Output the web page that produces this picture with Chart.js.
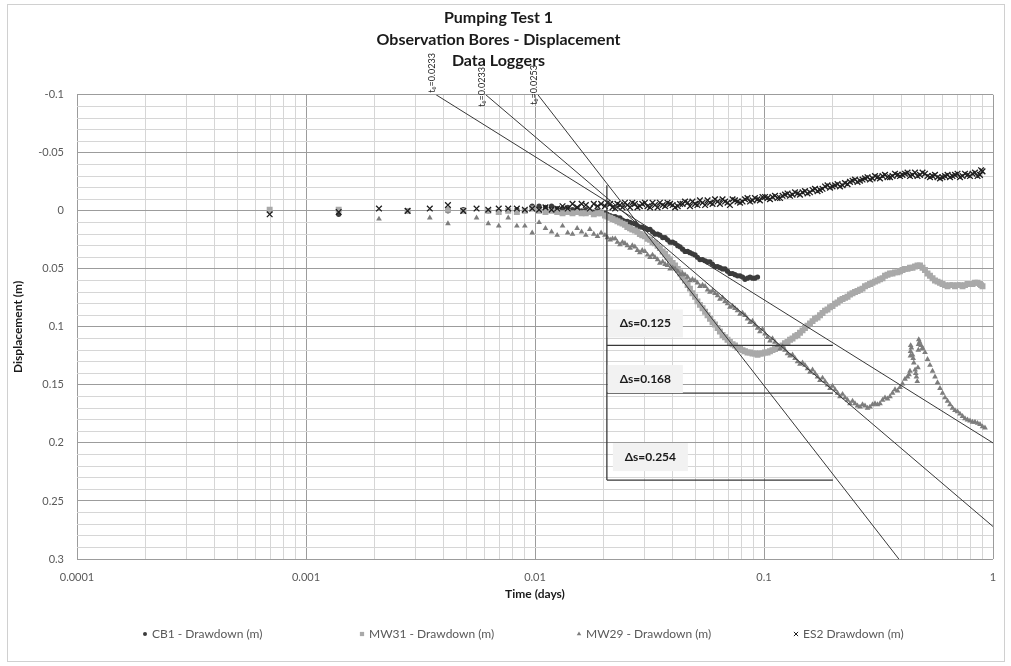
<!DOCTYPE html>
<html>
<head>
<meta charset="utf-8">
<script src="https://cdn.jsdelivr.net/npm/chart.js@4.4.1/dist/chart.umd.min.js"></script>
<style>
  html, body { margin: 0; padding: 0; background: #fff; }
  #wrap { position: relative; width: 1011px; height: 666px; }
  #frame { position: absolute; left: 7px; top: 4px; width: 998px; height: 658px; border: 1px solid #d0d0d0; box-sizing: border-box; pointer-events: none; }
  canvas { display: block; }
</style>
</head>
<body>
<div id="wrap">
  <canvas id="chart" width="1011" height="666"></canvas>
  <div id="frame"></div>
</div>
<script>
// Titles and labels
const TITLE_LINES = ['Pumping Test 1', 'Observation Bores - Displacement', 'Data Loggers'];
const SERIES_NAMES = ['CB1 - Drawdown (m)', 'MW31 - Drawdown (m)', 'MW29 - Drawdown (m)', 'ES2 Drawdown (m)'];
const X_DECADES = [0.0001, 0.001, 0.01, 0.1, 1];
const X_TICK_LABELS = ['0.0001', '0.001', '0.01', '0.1', '1'];
const X_MULTS = [1, 2, 3, 4, 5, 6, 7, 8, 9];
const T0_LABELS = ['t\u2080=0.0233', 't\u2080=0.0233', 't\u2080=0.0253'];
const DS_LABELS = ['\u0394s=0.125', '\u0394s=0.168', '\u0394s=0.254'];

// [time (days), displacement (m)]
const cb1 = [
  [0.001389, 0.003], [0.002778, 0.000], [0.004167, 0.000], [0.004861, -0.001], [0.00625, 0.000],
  [0.008333, -0.001], [0.009722, -0.004], [0.01042, -0.004], [0.01111, -0.003], [0.01181, -0.004],
  [0.0125, -0.002], [0.01319, -0.002], [0.01389, -0.003], [0.01458, -0.001], [0.01528, -0.002],
  [0.01597, 0.000], [0.01667, -0.001], [0.01736, 0.000], [0.01806, 0.001], [0.01875, 0.000],
  [0.01944, 0.001], [0.0202, 0.002], [0.0213, 0.004], [0.0224, 0.005], [0.0235, 0.006],
  [0.0247, 0.009], [0.0260, 0.010], [0.0273, 0.011], [0.0287, 0.014], [0.0302, 0.015],
  [0.0318, 0.016], [0.0334, 0.020], [0.0351, 0.021], [0.0370, 0.023], [0.0389, 0.027],
  [0.0409, 0.028], [0.0430, 0.031], [0.0452, 0.035], [0.0475, 0.036], [0.0500, 0.038],
  [0.0525, 0.042], [0.0553, 0.043], [0.0581, 0.044], [0.0611, 0.048], [0.0642, 0.049],
  [0.0676, 0.050], [0.0710, 0.054], [0.0747, 0.055], [0.0786, 0.056], [0.0826, 0.059],
  [0.0869, 0.057], [0.0913, 0.058],
];
const cb1Mid = [
  [0.0207, 0.003], [0.0218, 0.005], [0.0229, 0.006], [0.0241, 0.008], [0.0253, 0.009],
  [0.0266, 0.011], [0.0280, 0.013], [0.0294, 0.014], [0.0310, 0.016], [0.0326, 0.018],
  [0.0343, 0.020], [0.0361, 0.023], [0.0379, 0.025], [0.0399, 0.027], [0.0420, 0.030],
  [0.0441, 0.033], [0.0464, 0.035], [0.0487, 0.037], [0.0512, 0.040], [0.0539, 0.042],
  [0.0567, 0.044], [0.0596, 0.046], [0.0627, 0.048], [0.0659, 0.050], [0.0693, 0.052],
  [0.0729, 0.054], [0.0766, 0.056], [0.0806, 0.057], [0.0847, 0.058], [0.0891, 0.058],
  [0.0937, 0.057],
];

const mw31 = [
  [0.000694, -0.001], [0.001389, -0.001], [0.002778, 0.000], [0.004167, -0.001], [0.004861, 0.000],
  [0.00625, 0.000], [0.006944, 0.001], [0.007639, 0.000], [0.008333, 0.001], [0.009028, 0.000],
  [0.009722, -0.002], [0.01042, 0.000], [0.01111, 0.001], [0.01181, 0.000], [0.0125, 0.001],
  [0.01319, 0.002], [0.01389, 0.001], [0.01458, 0.002], [0.01528, 0.001], [0.01597, 0.002],
  [0.01667, 0.002], [0.01736, 0.001], [0.01806, 0.003], [0.01875, 0.002], [0.01944, 0.002],
  [0.0202, 0.004], [0.0213, 0.006], [0.0224, 0.008], [0.0235, 0.010], [0.0247, 0.012],
  [0.0260, 0.015], [0.0273, 0.017], [0.0287, 0.020], [0.0302, 0.022], [0.0318, 0.025],
  [0.0334, 0.028], [0.0351, 0.032], [0.0370, 0.037], [0.0389, 0.042], [0.0409, 0.047],
  [0.0430, 0.053], [0.0452, 0.060], [0.0475, 0.067], [0.0500, 0.074], [0.0525, 0.081],
  [0.0553, 0.087], [0.0581, 0.093], [0.0611, 0.098], [0.0642, 0.104], [0.0676, 0.109],
  [0.0710, 0.113], [0.0747, 0.116], [0.0786, 0.119], [0.0826, 0.121], [0.0869, 0.122],
  [0.0913, 0.123], [0.0960, 0.123], [0.101, 0.122], [0.1062, 0.121], [0.1117, 0.119],
  [0.1175, 0.117], [0.1235, 0.114], [0.1299, 0.111], [0.1366, 0.108], [0.1436, 0.105],
  [0.1510, 0.101], [0.1588, 0.097], [0.1670, 0.093], [0.1756, 0.090], [0.1847, 0.086],
  [0.1942, 0.083], [0.2042, 0.080], [0.2147, 0.077], [0.2258, 0.075], [0.2374, 0.072],
  [0.2497, 0.070], [0.2626, 0.068], [0.2761, 0.065], [0.2903, 0.063], [0.3053, 0.061],
  [0.3210, 0.059], [0.3376, 0.056], [0.3550, 0.054], [0.3733, 0.053], [0.3925, 0.052],
  [0.4128, 0.050], [0.4340, 0.049], [0.4564, 0.048], [0.4800, 0.047], [0.5047, 0.051],
  [0.5307, 0.056], [0.5581, 0.060], [0.5869, 0.062], [0.6171, 0.064], [0.6490, 0.064],
  [0.6824, 0.065], [0.7176, 0.064], [0.7546, 0.064], [0.7935, 0.063], [0.8344, 0.062],
  [0.8774, 0.063], [0.9000, 0.065],
];
const mw31Mid = [
  [0.0207, 0.005], [0.0218, 0.007], [0.0229, 0.009], [0.0241, 0.011], [0.0253, 0.014],
  [0.0266, 0.016], [0.0280, 0.018], [0.0294, 0.021], [0.0310, 0.024], [0.0326, 0.027],
  [0.0343, 0.030], [0.0361, 0.035], [0.0379, 0.040], [0.0399, 0.045], [0.0420, 0.050],
  [0.0441, 0.057], [0.0464, 0.064], [0.0487, 0.071], [0.0512, 0.078], [0.0539, 0.084],
  [0.0567, 0.090], [0.0596, 0.096], [0.0627, 0.101], [0.0659, 0.107], [0.0693, 0.111],
  [0.0729, 0.115], [0.0766, 0.118], [0.0806, 0.120], [0.0847, 0.122], [0.0891, 0.123],
  [0.0937, 0.124], [0.0985, 0.123], [0.1036, 0.122], [0.1089, 0.120], [0.1146, 0.118],
  [0.1205, 0.116], [0.1267, 0.113], [0.1332, 0.110], [0.1401, 0.107], [0.1473, 0.103],
  [0.1549, 0.099], [0.1629, 0.095], [0.1713, 0.092], [0.1801, 0.088], [0.1894, 0.085],
  [0.1992, 0.082], [0.2095, 0.079], [0.2203, 0.076], [0.2316, 0.074], [0.2435, 0.071],
  [0.2561, 0.069], [0.2693, 0.067], [0.2832, 0.064], [0.2978, 0.062], [0.3131, 0.060],
  [0.3293, 0.058], [0.3462, 0.055], [0.3641, 0.054], [0.3829, 0.053], [0.4026, 0.051],
  [0.4234, 0.050], [0.4452, 0.049], [0.4682, 0.047], [0.4923, 0.049], [0.5177, 0.054],
  [0.5444, 0.058], [0.5725, 0.061], [0.6020, 0.063], [0.6331, 0.065], [0.6657, 0.064],
  [0.7000, 0.064], [0.7361, 0.065], [0.7741, 0.063], [0.8140, 0.063], [0.8560, 0.062],
  [0.8870, 0.064],
];

const mw29 = [
  [0.002083, 0.007], [0.003472, 0.006], [0.004167, 0.011], [0.005556, 0.006], [0.00625, 0.011],
  [0.006944, 0.013], [0.007639, 0.006], [0.008333, 0.013], [0.009028, 0.013], [0.009722, 0.019],
  [0.01042, 0.010], [0.01111, 0.015], [0.01181, 0.018], [0.0125, 0.021], [0.01319, 0.013],
  [0.01389, 0.019], [0.01458, 0.020], [0.01528, 0.015], [0.01597, 0.018], [0.01667, 0.021],
  [0.01736, 0.016], [0.01806, 0.020], [0.01875, 0.022], [0.01944, 0.019], [0.0202, 0.021],
  [0.0213, 0.025], [0.0224, 0.024], [0.0235, 0.029], [0.0247, 0.028], [0.0260, 0.032],
  [0.0273, 0.031], [0.0287, 0.036], [0.0302, 0.035], [0.0318, 0.040], [0.0334, 0.040],
  [0.0351, 0.045], [0.0370, 0.046], [0.0389, 0.050], [0.0409, 0.050], [0.0430, 0.055],
  [0.0452, 0.055], [0.0475, 0.060], [0.0500, 0.060], [0.0525, 0.065], [0.0553, 0.065],
  [0.0581, 0.070], [0.0611, 0.071], [0.0642, 0.076], [0.0676, 0.078], [0.0710, 0.083],
  [0.0747, 0.084], [0.0786, 0.089], [0.0826, 0.090], [0.0869, 0.096], [0.0913, 0.098],
  [0.0960, 0.104], [0.101, 0.106], [0.1062, 0.112], [0.1117, 0.113], [0.1175, 0.119],
  [0.1235, 0.120], [0.1299, 0.125], [0.1366, 0.127], [0.1436, 0.132], [0.1510, 0.133],
  [0.1588, 0.139], [0.1670, 0.140], [0.1756, 0.146], [0.1847, 0.147], [0.1942, 0.153],
  [0.2042, 0.154], [0.2147, 0.160], [0.2258, 0.161], [0.2374, 0.166], [0.2497, 0.166],
  [0.2626, 0.169], [0.2761, 0.168], [0.2903, 0.169], [0.3053, 0.166], [0.3210, 0.166],
  [0.3376, 0.161], [0.3550, 0.160], [0.3733, 0.154], [0.3925, 0.152], [0.4128, 0.145],
  [0.430, 0.141], [0.434, 0.138], [0.436, 0.125], [0.437, 0.116], [0.440, 0.118],
  [0.445, 0.124], [0.451, 0.131], [0.457, 0.137], [0.463, 0.143], [0.467, 0.147],
  [0.470, 0.135], [0.472, 0.120], [0.474, 0.111], [0.478, 0.113], [0.485, 0.116],
  [0.492, 0.119], [0.5047, 0.122], [0.5307, 0.133], [0.5581, 0.143], [0.5869, 0.153],
  [0.6171, 0.161], [0.6490, 0.167], [0.6824, 0.172], [0.7176, 0.175], [0.7546, 0.179],
  [0.7935, 0.181], [0.8344, 0.182], [0.8774, 0.184], [0.9226, 0.187],
];
const mw29Mid = [
  [0.0207, 0.023], [0.0218, 0.024], [0.0229, 0.027], [0.0241, 0.027], [0.0253, 0.030],
  [0.0266, 0.030], [0.0280, 0.034], [0.0294, 0.034], [0.0310, 0.038], [0.0326, 0.038],
  [0.0343, 0.042], [0.0361, 0.044], [0.0379, 0.047], [0.0399, 0.049], [0.0420, 0.052],
  [0.0441, 0.054], [0.0464, 0.057], [0.0487, 0.059], [0.0512, 0.062], [0.0539, 0.064],
  [0.0567, 0.068], [0.0596, 0.069], [0.0627, 0.073], [0.0659, 0.075], [0.0693, 0.080],
  [0.0729, 0.082], [0.0766, 0.086], [0.0806, 0.088], [0.0847, 0.093], [0.0891, 0.095],
  [0.0937, 0.101], [0.0985, 0.102], [0.1036, 0.109], [0.1089, 0.110], [0.1146, 0.116],
  [0.1205, 0.117], [0.1267, 0.123], [0.1332, 0.124], [0.1401, 0.130], [0.1473, 0.131],
  [0.1549, 0.136], [0.1629, 0.137], [0.1713, 0.143], [0.1801, 0.144], [0.1894, 0.150],
  [0.1992, 0.151], [0.2095, 0.157], [0.2203, 0.158], [0.2316, 0.163], [0.2435, 0.164],
  [0.2561, 0.168], [0.2693, 0.167], [0.2832, 0.170], [0.2978, 0.167], [0.3131, 0.167],
  [0.3293, 0.163], [0.3462, 0.162], [0.3641, 0.157], [0.3829, 0.155], [0.4026, 0.149],
  [0.4234, 0.143], [0.4365, 0.121], [0.448, 0.127], [0.460, 0.140], [0.473, 0.115],
  [0.4923, 0.118], [0.5177, 0.128], [0.5444, 0.138], [0.5725, 0.148], [0.6020, 0.157],
  [0.6331, 0.164], [0.6657, 0.170], [0.7000, 0.173], [0.7361, 0.177], [0.7741, 0.180],
  [0.8140, 0.182], [0.8560, 0.183], [0.9000, 0.186],
];

const es2 = [
  [0.000694, 0.003], [0.001389, 0.001], [0.002083, -0.002], [0.002778, 0.000], [0.003472, -0.002],
  [0.004167, -0.005], [0.004861, 0.000], [0.005556, -0.002], [0.00625, -0.001], [0.006944, -0.002],
  [0.007639, -0.002], [0.008333, -0.002], [0.009028, -0.001], [0.009722, -0.002], [0.01042, -0.001],
  [0.01111, -0.003], [0.01181, -0.001], [0.0125, -0.002], [0.01319, -0.004], [0.01389, -0.002],
  [0.01458, -0.006], [0.01528, -0.003], [0.01597, -0.006], [0.01667, -0.005], [0.01736, -0.002],
  [0.01806, -0.006], [0.01875, -0.004], [0.01944, -0.006], [0.0202, -0.004], [0.0213, -0.006],
  [0.0224, -0.002], [0.0235, -0.005], [0.0247, -0.007], [0.0260, -0.003], [0.0273, -0.006],
  [0.0287, -0.004], [0.0302, -0.007], [0.0318, -0.003], [0.0334, -0.005], [0.0351, -0.007],
  [0.0370, -0.004], [0.0389, -0.006], [0.0409, -0.003], [0.0430, -0.006], [0.0452, -0.008],
  [0.0475, -0.004], [0.0500, -0.006], [0.0525, -0.009], [0.0553, -0.005], [0.0581, -0.007],
  [0.0611, -0.010], [0.0642, -0.006], [0.0676, -0.008], [0.0710, -0.005], [0.0747, -0.009],
  [0.0786, -0.007], [0.0826, -0.010], [0.0869, -0.008], [0.0913, -0.011], [0.0960, -0.009],
  [0.101, -0.012], [0.1062, -0.010], [0.1117, -0.013], [0.1175, -0.011], [0.1235, -0.014],
  [0.1299, -0.013], [0.1366, -0.016], [0.1436, -0.014], [0.1510, -0.017], [0.1588, -0.016],
  [0.1670, -0.019], [0.1756, -0.018], [0.1847, -0.021], [0.1942, -0.020], [0.2042, -0.022],
  [0.2147, -0.021], [0.2258, -0.024], [0.2374, -0.025], [0.2497, -0.027], [0.2626, -0.026],
  [0.2761, -0.028], [0.2903, -0.027], [0.3053, -0.030], [0.3210, -0.028], [0.3376, -0.031],
  [0.3550, -0.029], [0.3733, -0.032], [0.3925, -0.030], [0.4128, -0.032], [0.4340, -0.030],
  [0.4564, -0.033], [0.4800, -0.031], [0.5047, -0.032], [0.5307, -0.029], [0.5581, -0.031],
  [0.5869, -0.028], [0.6171, -0.030], [0.6490, -0.029], [0.6824, -0.031], [0.7176, -0.029],
  [0.7546, -0.032], [0.7935, -0.030], [0.8344, -0.033], [0.8774, -0.031], [0.9000, -0.034],
];
const es2Mid = [
  [0.0207, -0.007], [0.0218, -0.003], [0.0229, -0.006], [0.0241, -0.003], [0.0253, -0.005],
  [0.0266, -0.007], [0.0280, -0.003], [0.0294, -0.006], [0.0310, -0.004], [0.0326, -0.007],
  [0.0343, -0.003], [0.0361, -0.005], [0.0379, -0.007], [0.0399, -0.005], [0.0420, -0.004],
  [0.0441, -0.006], [0.0464, -0.007], [0.0487, -0.008], [0.0512, -0.005], [0.0539, -0.007],
  [0.0567, -0.009], [0.0596, -0.006], [0.0627, -0.008], [0.0659, -0.010], [0.0693, -0.007],
  [0.0729, -0.010], [0.0766, -0.008], [0.0806, -0.008], [0.0847, -0.011], [0.0891, -0.009],
  [0.0937, -0.010], [0.0985, -0.012], [0.1036, -0.011], [0.1089, -0.012], [0.1146, -0.011],
  [0.1205, -0.013], [0.1267, -0.015], [0.1332, -0.014], [0.1401, -0.015], [0.1473, -0.016],
  [0.1549, -0.015], [0.1629, -0.018], [0.1713, -0.017], [0.1801, -0.019], [0.1894, -0.022],
  [0.1992, -0.021], [0.2095, -0.023], [0.2203, -0.022], [0.2316, -0.023], [0.2435, -0.026],
  [0.2561, -0.025], [0.2693, -0.027], [0.2832, -0.029], [0.2978, -0.028], [0.3131, -0.029],
  [0.3293, -0.030], [0.3462, -0.029], [0.3641, -0.030], [0.3829, -0.031], [0.4026, -0.031],
  [0.4234, -0.033], [0.4452, -0.031], [0.4682, -0.030], [0.4923, -0.033], [0.5177, -0.030],
  [0.5444, -0.030], [0.5725, -0.029], [0.6020, -0.029], [0.6331, -0.031], [0.6657, -0.030],
  [0.7000, -0.032], [0.7361, -0.030], [0.7741, -0.031], [0.8140, -0.032], [0.8560, -0.030],
  [0.8870, -0.035],
];

// Straight-line fits (Cooper-Jacob) and the delta-s construction
const jacobLines = [
  [[0.0037, -0.1], [1, 0.2]],
  [[0.0061, -0.1], [1, 0.272]],
  [[0.0103, -0.1], [0.388, 0.3]],
];
const DS_T_START = 0.0206;
const DS_T_END = 0.2;
const DS_TOP = -0.022;
const DS_LEVELS = [0.116, 0.157, 0.232];

const pts = (arr) => arr.map(([x, y]) => ({ x, y }));

const MAJOR = '#9c9c9c';
const MINOR = '#d6d6d6';
const FONT = 'Lato, "DejaVu Sans", sans-serif';

const helperLine = (data, width) => ({
  label: '',
  data,
  showLine: true,
  pointRadius: 0,
  borderColor: '#383838',
  borderWidth: width,
  order: 0,
});

const datasets = [
  {
    label: SERIES_NAMES[0], data: pts(cb1.concat(cb1Mid)), pointStyle: 'circle', pointRadius: 2.6,
    backgroundColor: '#3c3c3c', borderColor: '#3c3c3c', borderWidth: 0, order: 4,
  },
  {
    label: SERIES_NAMES[1], data: pts(mw31.concat(mw31Mid)), pointStyle: 'rect', pointRadius: 4.2,
    backgroundColor: '#a9a9a9', borderColor: '#a9a9a9', borderWidth: 0, order: 3,
  },
  {
    label: SERIES_NAMES[2], data: pts(mw29.concat(mw29Mid)), pointStyle: 'triangle', pointRadius: 3.3,
    backgroundColor: '#7d7d7d', borderColor: '#7d7d7d', borderWidth: 0, order: 2,
  },
  {
    label: SERIES_NAMES[3], data: pts(es2.concat(es2Mid)), pointStyle: 'crossRot', pointRadius: 4,
    backgroundColor: '#1e1e1e', borderColor: '#1e1e1e', borderWidth: 1.3, order: 1,
  },
];
jacobLines.forEach((l) => datasets.push(helperLine(pts(l), 1)));
datasets.push(helperLine(pts([[DS_T_START, DS_TOP], [DS_T_START, DS_LEVELS[2]]]), 1.3));
DS_LEVELS.forEach((lv) => datasets.push(helperLine(pts([[DS_T_START, lv], [DS_T_END, lv]]), 1.3)));

// text boxes and rotated t0 labels
const annotations = {
  id: 'annotations',
  afterDatasetsDraw(chart) {
    const { ctx, chartArea, scales: { x, y } } = chart;
    const boxShift = [1, 1, 6];
    const boxRaise = [-22, -14, -23];
    ctx.save();
    ctx.font = `bold 12px ${FONT}`;
    ctx.textAlign = 'center';
    ctx.textBaseline = 'middle';
    DS_LABELS.forEach((label, i) => {
      const left = x.getPixelForValue(DS_T_START) + boxShift[i];
      const cy = y.getPixelForValue(DS_LEVELS[i]) + boxRaise[i];
      ctx.fillStyle = '#f2f2f2';
      ctx.fillRect(left, cy - 14, 75, 28);
      ctx.fillStyle = '#1a1a1a';
      ctx.fillText(label, left + 37.5, cy);
    });
    const drop = [-2, 12, 10];
    ctx.font = `9px ${FONT}`;
    ctx.textAlign = 'left';
    ctx.fillStyle = '#262626';
    jacobLines.forEach((line, i) => {
      const px = x.getPixelForValue(line[0][0]) - 4;
      const py = chartArea.top + drop[i];
      ctx.save();
      ctx.translate(px, py);
      ctx.rotate(-Math.PI / 2);
      ctx.fillText(T0_LABELS[i], 0, 0);
      ctx.restore();
    });
    ctx.restore();
  },
};

// Excel-style legend: equal columns along the bottom
const legendRow = {
  id: 'legendRow',
  afterDraw(chart) {
    const { ctx } = chart;
    const markerSize = [2, 3, 2.6, 3];
    ctx.save();
    ctx.font = `12px ${FONT}`;
    ctx.textBaseline = 'middle';
    ctx.textAlign = 'left';
    SERIES_NAMES.forEach((name, i) => {
      const ds = chart.data.datasets[i];
      const cx = 145 + i * 217;
      const cy = 634;
      ctx.fillStyle = ds.backgroundColor;
      ctx.strokeStyle = ds.borderColor;
      ctx.lineWidth = 1;
      Chart.helpers.drawPoint(ctx, {
        pointStyle: ds.pointStyle, radius: markerSize[i], rotation: 0, borderWidth: ds.pointStyle === 'crossRot' ? 1 : 0,
      }, cx, cy);
      ctx.fillStyle = '#595959';
      ctx.fillText(name, cx + 7, cy);
    });
    ctx.restore();
  },
};

const ctx = document.getElementById('chart');
new Chart(ctx, {
  type: 'scatter',
  data: { datasets },
  plugins: [annotations, legendRow],
  options: {
    responsive: false,
    animation: false,
    devicePixelRatio: 1,
    layout: { padding: { top: 2, left: 4, right: 18, bottom: 55 } },
    plugins: {
      legend: { display: false },
      tooltip: { enabled: false },
      title: {
        display: true,
        text: TITLE_LINES,
        color: '#1a1a1a',
        font: { family: FONT, size: 16, weight: 'bold', lineHeight: 1.35 },
        padding: { top: 5, bottom: 23 },
      },
    },
    scales: {
      x: {
        type: 'logarithmic',
        min: 0.0001,
        max: 1,
        afterBuildTicks: (scale) => {
          const ticks = [];
          X_DECADES.forEach((d) => {
            if (d === 1) { ticks.push({ value: 1 }); return; }
            X_MULTS.forEach((m) => ticks.push({ value: d * m }));
          });
          scale.ticks = ticks;
        },
        afterFit: (scale) => { scale.height = 52; },
        grid: {
          drawTicks: false,
          color: (c) => (X_DECADES.includes(c.tick && c.tick.value) ? MAJOR : MINOR),
        },
        border: { display: false },
        ticks: {
          autoSkip: false,
          maxRotation: 0,
          padding: 12,
          color: '#595959',
          font: { family: FONT, size: 11 },
          callback: (value) => {
            const i = X_DECADES.indexOf(value);
            return i >= 0 ? X_TICK_LABELS[i] : '';
          },
        },
        title: {
          display: true,
          text: 'Time (days)',
          color: '#1a1a1a',
          font: { family: FONT, size: 12, weight: 'bold' },
          padding: { top: 0, bottom: 10 },
        },
      },
      y: {
        type: 'linear',
        min: -0.1,
        max: 0.3,
        reverse: true,
        afterFit: (scale) => { scale.width = 73; },
        grid: {
          drawTicks: false,
          color: (c) => (c.tick && Math.round(c.tick.value * 100) % 5 === 0 ? MAJOR : MINOR),
        },
        border: { display: false },
        ticks: {
          stepSize: 0.01,
          maxTicksLimit: 60,
          autoSkip: false,
          padding: 13,
          color: '#595959',
          font: { family: FONT, size: 11 },
          callback: (value) => {
            const c = Math.round(value * 100);
            return c % 5 === 0 ? String(c / 100) : '';
          },
        },
        title: {
          display: true,
          text: 'Displacement (m)',
          color: '#1a1a1a',
          font: { family: FONT, size: 12, weight: 'bold' },
          padding: { top: 7, bottom: 0 },
        },
      },
    },
  },
});
</script>
</body>
</html>
